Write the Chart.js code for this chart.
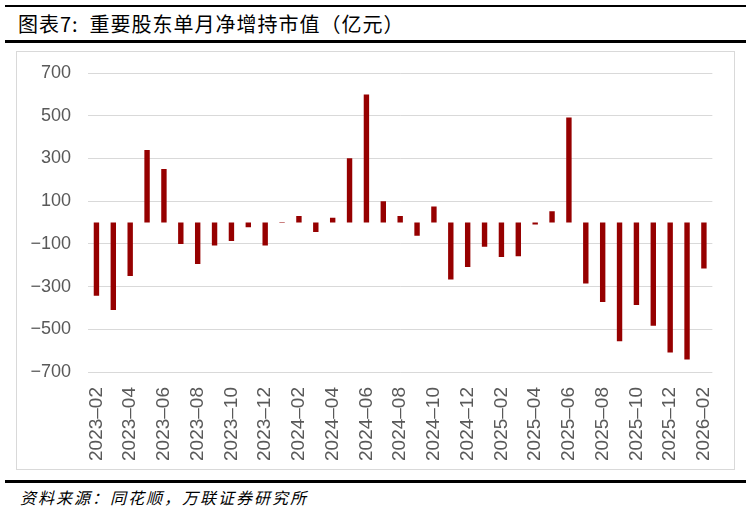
<!DOCTYPE html>
<html>
<head>
<meta charset="utf-8">
<script src="https://cdn.jsdelivr.net/npm/chart.js@4.4.1/dist/chart.umd.min.js"></script>
<style>
    body { margin: 0; width: 751px; height: 512px; background: #fff; position: relative; overflow: hidden; }
    .rule { position: absolute; left: 5px; width: 741px; background: #000; }
    #title { position: absolute; left: 18px; top: 9px; font-family: "Noto Sans CJK SC"; font-size: 20px; color: #000; white-space: nowrap; letter-spacing: 1px; }
    #box { position: absolute; left: 16px; top: 51px; width: 717px; height: 417px; border: 1px solid #d9d9d9; }
    #source { position: absolute; left: 20px; top: 485px; font-family: "Noto Sans CJK SC"; font-style: italic; font-size: 16px; letter-spacing: 2px; color: #000; white-space: nowrap; }
</style>
</head>
<body>
<div class="rule" style="top:5px;height:2px"></div>
<div id="title">图表7:&nbsp;&nbsp;重要股东单月净增持市值（亿元）</div>
<div class="rule" style="top:40px;height:3px"></div>
<div id="box"><canvas id="shareholder_chart" width="717" height="417"></canvas></div>
<div class="rule" style="top:480px;height:3px"></div>
<div id="source">资料来源：同花顺，万联证券研究所</div>
<script>
// months shown on the x axis
const months = [
    "2023–02", "2023–03", "2023–04", "2023–05", "2023–06", "2023–07", "2023–08", "2023–09", "2023–10", "2023–11", "2023–12",
    "2024–01", "2024–02", "2024–03", "2024–04", "2024–05", "2024–06", "2024–07", "2024–08", "2024–09", "2024–10", "2024–11", "2024–12",
    "2025–01", "2025–02", "2025–03", "2025–04", "2025–05", "2025–06", "2025–07", "2025–08", "2025–09", "2025–10", "2025–11", "2025–12",
    "2026–01", "2026–02"
];

// net increase in holdings, 100 million yuan
const netValues = [
    -343, -410, -251, 339, 251, -101, -194, -108, -87, -22, -108,
    -2, 31, -44, 22, 301, 599, 100, 31, -62, 75, -267, -208,
    -114, -162, -158, -9, 53, 492, -286, -372, -556, -386, -484, -609,
    -642, -215
];

const yMin = -700;
const yMax = 700;
const yStep = 200;

const ctx = document.getElementById('shareholder_chart').getContext('2d');
window.myChart = new Chart(ctx, {
    type: 'bar',
    data: {
        labels: months,
        datasets: [{
            data: netValues,
            backgroundColor: "#960000",
            borderWidth: 0,
            barPercentage: 0.32,
            categoryPercentage: 1.0,
        }]
    },
    options: {
        responsive: false,
        animation: false,
        layout: {
            padding: { top: 21, right: 21, bottom: 0, left: 0 }
        },
        scales: {
            x: {
                grid: { display: false },
                border: { display: false },
                ticks: {
                    autoSkip: false,
                    maxRotation: 90,
                    minRotation: 90,
                    padding: 7,
                    color: "#595959",
                    font: { family: "Liberation Sans", size: 19 },
                    callback: function (value, index) {
                        return index % 2 === 0 ? this.getLabelForValue(value) : '';
                    }
                },
                afterFit: function (scale) { scale.height = 97; }
            },
            y: {
                min: yMin,
                max: yMax,
                // invisible tick marks make the gap between labels and plot
                grid: { color: "#d9d9d9", lineWidth: 1, drawTicks: true, tickLength: 17, tickColor: "rgba(0,0,0,0)" },
                border: { display: false },
                ticks: {
                    stepSize: yStep,
                    padding: 0,
                    color: "#595959",
                    font: { family: "Liberation Sans", size: 18 },
                    callback: function (value) {
                        return value < 0 ? '\u2212' + Math.abs(value) : String(value);
                    }
                },
                afterFit: function (scale) { scale.width = 71; }
            }
        },
        plugins: {
            legend: { display: false },
            tooltip: { enabled: false }
        }
    }
});
</script>
</body>
</html>
